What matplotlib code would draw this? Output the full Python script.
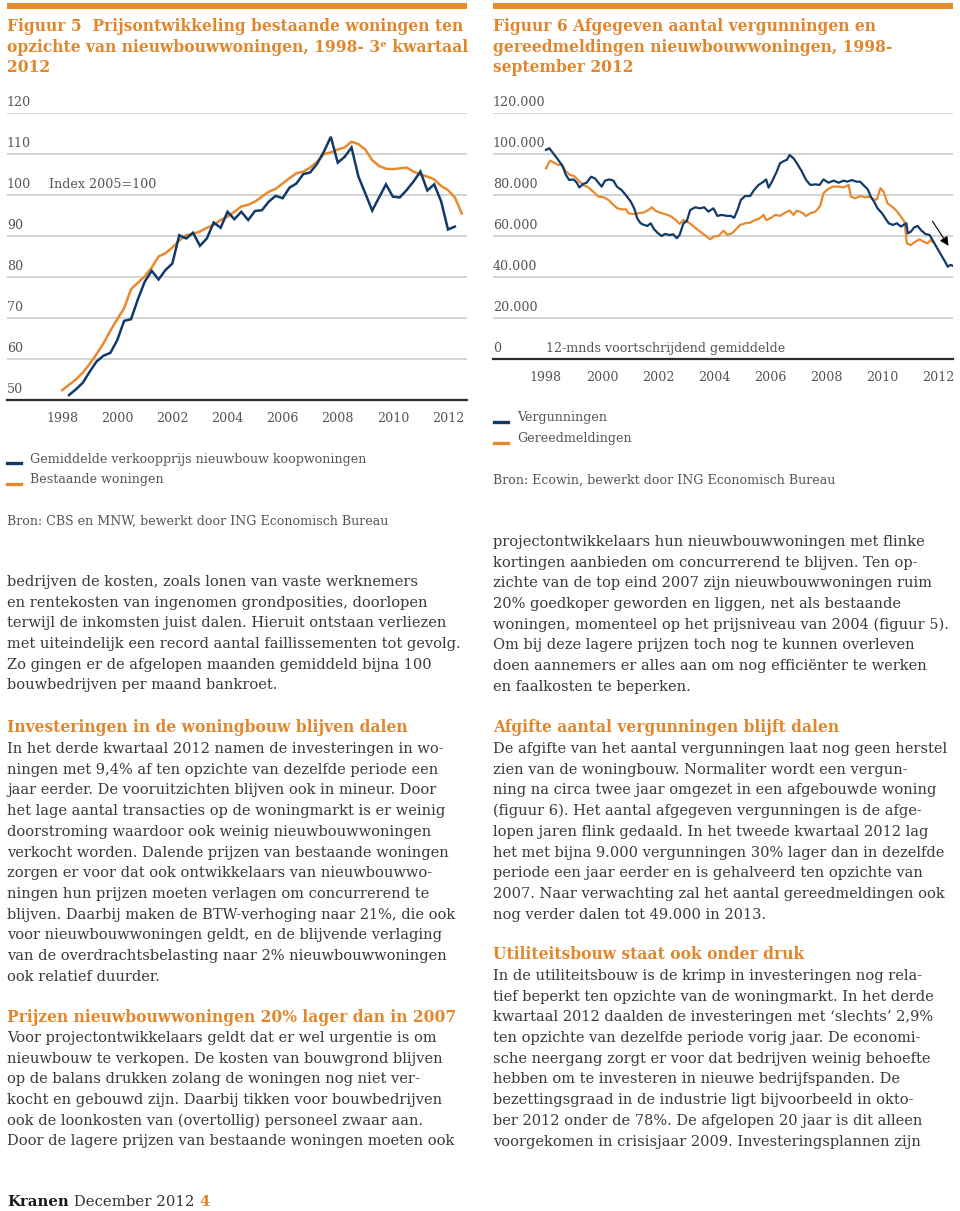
import matplotlib
matplotlib.use("Agg")
import matplotlib.pyplot as plt
from matplotlib.lines import Line2D
from matplotlib.patches import Rectangle
import matplotlib.transforms as mtransforms

# ---------------- data ----------------
# Figuur 5: price index (2005=100), quarterly
fig5_years = [1998, 2000, 2002, 2004, 2006, 2008, 2010, 2012]
fig5_yticks = [50, 60, 70, 80, 90, 100, 110, 120]
new_start = 1998.25          # first quarter of the series (1998 Q2)
new_homes = [51.2, 52.6, 54.2, 56.9, 59.4, 60.8, 61.5, 64.6, 69.3, 69.7,
             74.6, 78.9, 81.5, 79.4, 81.7, 83.3, 90.2, 89.4, 90.8, 87.6,
             89.4, 93.3, 92.0, 95.9, 94.1, 95.9, 93.9, 96.1, 96.3, 98.4,
             99.8, 99.2, 101.8, 102.8, 105.1, 105.5, 107.6, 110.6, 114.2, 107.9,
             109.3, 111.6, 104.5, 100.4, 96.2, 99.4, 102.6, 99.6, 99.4, 101.2,
             103.3, 105.7, 101.1, 102.6, 98.5, 91.6, 92.3]
existing_start = 1998.0      # 1998 Q1
existing_homes = [52.4, 53.7, 55.0, 56.7, 58.8, 61.2, 63.8, 66.9, 69.7, 72.4,
                  77.0, 78.6, 80.2, 82.3, 85.0, 85.8, 87.2, 88.9, 90.2, 90.5,
                  91.1, 92.0, 92.7, 93.9, 94.7, 95.9, 97.2, 97.6, 98.4, 99.6,
                  100.8, 101.5, 102.8, 104.1, 105.3, 105.7, 106.7, 108.1, 110.0, 110.4,
                  111.1, 111.6, 113.0, 112.4, 111.1, 108.5, 107.1, 106.4, 106.3, 106.5,
                  106.7, 105.7, 105.0, 104.5, 103.8, 102.2, 101.2, 99.4, 95.5]

# Figuur 6: 12-month moving averages, in thousands of dwellings
fig6_years = [1998, 2000, 2002, 2004, 2006, 2008, 2010, 2012]
fig6_yticks = [0, 20, 40, 60, 80, 100, 120]
fig6_yticklabels = ["0", "20.000", "40.000", "60.000", "80.000", "100.000", "120.000"]
verg_t = [1998.00, 1998.12, 1998.26, 1998.44, 1998.60, 1998.71, 1998.83, 1998.98, 1999.10, 1999.19,
          1999.33, 1999.45, 1999.61, 1999.75, 1999.87, 1999.99, 2000.11, 2000.26, 2000.41, 2000.53,
          2000.70, 2000.88, 2001.03, 2001.15, 2001.26, 2001.38, 2001.50, 2001.62, 2001.74, 2001.86,
          2001.98, 2002.13, 2002.25, 2002.41, 2002.55, 2002.67, 2002.77, 2002.91, 2003.03, 2003.15,
          2003.33, 2003.50, 2003.65, 2003.80, 2003.98, 2004.12, 2004.28, 2004.46, 2004.60, 2004.72,
          2004.84, 2004.96, 2005.11, 2005.29, 2005.43, 2005.59, 2005.77, 2005.86, 2005.95, 2006.07,
          2006.24, 2006.36, 2006.51, 2006.60, 2006.70, 2006.84, 2006.98, 2007.14, 2007.29, 2007.44,
          2007.62, 2007.77, 2007.91, 2008.09, 2008.27, 2008.45, 2008.63, 2008.75, 2008.93, 2009.08,
          2009.22, 2009.37, 2009.49, 2009.60, 2009.72, 2009.84, 2010.00, 2010.12, 2010.24, 2010.39,
          2010.53, 2010.68, 2010.77, 2010.87, 2010.92, 2011.03, 2011.15, 2011.27, 2011.39, 2011.55,
          2011.70, 2011.82, 2011.94, 2012.08, 2012.23, 2012.35, 2012.44, 2012.54]
vergunningen = [102.0, 102.8, 100.3, 97.1, 93.8, 89.8, 87.3, 87.6, 86.0, 83.7,
                85.4, 86.0, 88.9, 88.1, 86.0, 84.1, 87.0, 87.6, 87.0, 84.1,
                82.4, 79.5, 76.7, 73.5, 68.6, 66.2, 65.4, 64.9, 66.2, 63.3,
                61.6, 60.0, 61.0, 60.5, 60.8, 58.9, 60.5, 66.2, 67.3, 72.7,
                74.0, 73.5, 74.0, 71.9, 73.5, 69.8, 70.3, 69.8, 69.8, 68.9,
                72.7, 77.6, 79.5, 79.5, 82.4, 84.9, 86.5, 87.6, 83.6, 86.5,
                91.4, 95.5, 96.7, 97.1, 99.5, 97.9, 95.1, 91.4, 87.3, 84.9,
                85.2, 84.9, 87.6, 86.0, 87.0, 86.0, 87.0, 86.5, 87.3, 86.5,
                86.5, 84.4, 82.8, 79.2, 76.7, 73.5, 71.1, 68.6, 66.2, 65.4,
                66.2, 64.6, 65.4, 66.2, 61.3, 62.1, 64.2, 64.9, 62.9, 61.0,
                60.5, 57.7, 54.8, 51.5, 48.0, 45.0, 45.9, 45.4]
gereed_t = [1998.00, 1998.14, 1998.29, 1998.44, 1998.56, 1998.71, 1998.86, 1999.00, 1999.16, 1999.33,
            1999.51, 1999.69, 1999.87, 2000.05, 2000.23, 2000.41, 2000.55, 2000.70, 2000.86, 2000.94,
            2001.12, 2001.30, 2001.48, 2001.66, 2001.78, 2001.90, 2002.07, 2002.25, 2002.43, 2002.61,
            2002.77, 2002.91, 2003.05, 2003.21, 2003.39, 2003.56, 2003.74, 2003.86, 2004.00, 2004.16,
            2004.34, 2004.48, 2004.64, 2004.76, 2004.93, 2005.11, 2005.29, 2005.47, 2005.63, 2005.77,
            2005.86, 2006.01, 2006.19, 2006.36, 2006.54, 2006.70, 2006.84, 2006.96, 2007.14, 2007.29,
            2007.44, 2007.62, 2007.79, 2007.91, 2008.06, 2008.25, 2008.45, 2008.63, 2008.81, 2008.89,
            2009.04, 2009.22, 2009.40, 2009.56, 2009.70, 2009.82, 2009.94, 2010.06, 2010.20, 2010.36,
            2010.51, 2010.68, 2010.80, 2010.89, 2011.03, 2011.19, 2011.34, 2011.49, 2011.63, 2011.73,
            2011.79]
gereedmeldingen = [93.0, 96.7, 95.8, 94.6, 95.1, 91.4, 89.8, 89.3, 87.0, 84.9,
                   83.7, 81.6, 79.2, 78.9, 77.6, 75.1, 73.5, 73.0, 73.0, 71.1,
                   70.7, 71.1, 71.4, 72.7, 74.0, 72.4, 71.4, 70.7, 69.8, 68.1,
                   65.9, 67.8, 67.0, 65.4, 63.3, 61.6, 59.7, 58.4, 59.7, 60.0,
                   62.6, 60.5, 61.3, 62.9, 65.4, 66.2, 66.5, 67.8, 68.6, 70.3,
                   67.8, 68.6, 70.3, 69.8, 71.4, 72.4, 70.3, 72.4, 71.4, 69.8,
                   71.1, 71.9, 74.6, 80.8, 82.8, 84.1, 84.1, 83.7, 84.9, 79.2,
                   78.4, 79.5, 78.9, 79.2, 77.6, 77.9, 83.3, 81.6, 75.9, 74.3,
                   72.4, 69.4, 67.0, 56.4, 55.6, 57.2, 58.4, 57.2, 56.4, 58.0,
                   57.2]
arrow_from = (2011.75, 68.3)
arrow_to = (2012.43, 54.1)

# ---------------- texts ----------------
title5 = ["Figuur 5  Prijsontwikkeling bestaande woningen ten",
          "opzichte van nieuwbouwwoningen, 1998- 3\u1d49 kwartaal",
          "2012"]
title6 = ["Figuur 6 Afgegeven aantal vergunningen en",
          "gereedmeldingen nieuwbouwwoningen, 1998-",
          "september 2012"]
legend5 = ["Gemiddelde verkoopprijs nieuwbouw koopwoningen", "Bestaande woningen"]
legend6 = ["Vergunningen", "Gereedmeldingen"]
source5 = "Bron: CBS en MNW, bewerkt door ING Economisch Bureau"
source6 = "Bron: Ecowin, bewerkt door ING Economisch Bureau"

left_blocks = [
    ("text", 581, ["bedrijven de kosten, zoals lonen van vaste werknemers",
                   "en rentekosten van ingenomen grondposities, doorlopen",
                   "terwijl de inkomsten juist dalen. Hieruit ontstaan verliezen",
                   "met uiteindelijk een record aantal faillissementen tot gevolg.",
                   "Zo gingen er de afgelopen maanden gemiddeld bijna 100",
                   "bouwbedrijven per maand bankroet."]),
    ("head", 727, ["Investeringen in de woningbouw blijven dalen"]),
    ("text", 748, ["In het derde kwartaal 2012 namen de investeringen in wo-",
                   "ningen met 9,4% af ten opzichte van dezelfde periode een",
                   "jaar eerder. De vooruitzichten blijven ook in mineur. Door",
                   "het lage aantal transacties op de woningmarkt is er weinig",
                   "doorstroming waardoor ook weinig nieuwbouwwoningen",
                   "verkocht worden. Dalende prijzen van bestaande woningen",
                   "zorgen er voor dat ook ontwikkelaars van nieuwbouwwo-",
                   "ningen hun prijzen moeten verlagen om concurrerend te",
                   "blijven. Daarbij maken de BTW-verhoging naar 21%, die ook",
                   "voor nieuwbouwwoningen geldt, en de blijvende verlaging",
                   "van de overdrachtsbelasting naar 2% nieuwbouwwoningen",
                   "ook relatief duurder."]),
    ("head", 1017, ["Prijzen nieuwbouwwoningen 20% lager dan in 2007"]),
    ("text", 1037, ["Voor projectontwikkelaars geldt dat er wel urgentie is om",
                    "nieuwbouw te verkopen. De kosten van bouwgrond blijven",
                    "op de balans drukken zolang de woningen nog niet ver-",
                    "kocht en gebouwd zijn. Daarbij tikken voor bouwbedrijven",
                    "ook de loonkosten van (overtollig) personeel zwaar aan.",
                    "Door de lagere prijzen van bestaande woningen moeten ook"]),
]
right_blocks = [
    ("text", 541, ["projectontwikkelaars hun nieuwbouwwoningen met flinke",
                   "kortingen aanbieden om concurrerend te blijven. Ten op-",
                   "zichte van de top eind 2007 zijn nieuwbouwwoningen ruim",
                   "20% goedkoper geworden en liggen, net als bestaande",
                   "woningen, momenteel op het prijsniveau van 2004 (figuur 5).",
                   "Om bij deze lagere prijzen toch nog te kunnen overleven",
                   "doen aannemers er alles aan om nog effici\u00ebnter te werken",
                   "en faalkosten te beperken."]),
    ("head", 727, ["Afgifte aantal vergunningen blijft dalen"]),
    ("text", 748, ["De afgifte van het aantal vergunningen laat nog geen herstel",
                   "zien van de woningbouw. Normaliter wordt een vergun-",
                   "ning na circa twee jaar omgezet in een afgebouwde woning",
                   "(figuur 6). Het aantal afgegeven vergunningen is de afge-",
                   "lopen jaren flink gedaald. In het tweede kwartaal 2012 lag",
                   "het met bijna 9.000 vergunningen 30% lager dan in dezelfde",
                   "periode een jaar eerder en is gehalveerd ten opzichte van",
                   "2007. Naar verwachting zal het aantal gereedmeldingen ook",
                   "nog verder dalen tot 49.000 in 2013."]),
    ("head", 954, ["Utiliteitsbouw staat ook onder druk"]),
    ("text", 975, ["In de utiliteitsbouw is de krimp in investeringen nog rela-",
                   "tief beperkt ten opzichte van de woningmarkt. In het derde",
                   "kwartaal 2012 daalden de investeringen met \u2018slechts\u2019 2,9%",
                   "ten opzichte van dezelfde periode vorig jaar. De economi-",
                   "sche neergang zorgt er voor dat bedrijven weinig behoefte",
                   "hebben om te investeren in nieuwe bedrijfspanden. De",
                   "bezettingsgraad in de industrie ligt bijvoorbeeld in okto-",
                   "ber 2012 onder de 78%. De afgelopen 20 jaar is dit alleen",
                   "voorgekomen in crisisjaar 2009. Investeringsplannen zijn"]),
]

# ---------------- style ----------------
W, H = 960, 1211
ORANGE = "#E8892C"
HEAD = "#E2862B"
NAVY = "#123A69"
TXT = "#3a3a3a"
AXT = "#555555"
GRID = "#c8c8c8"
SERIF = ["DejaVu Serif", "DejaVu Sans"]
BODY_FS = 10.5
HEAD_FS = 11.2
AX_FS = 9.1
LINE = 20.7

fig = plt.figure(figsize=(W / 100, H / 100), dpi=100)
fig.patch.set_facecolor("white")


def fx(x):
    return x / W


def fy(y):
    return 1 - y / H


def ftext(x, y, s, **kw):
    kw.setdefault("family", SERIF)
    return fig.text(fx(x), fy(y), s, **kw)


# orange top bars
for x0, x1 in [(7, 467), (493, 953)]:
    fig.add_artist(Rectangle((fx(x0), fy(9.3)), fx(x1) - fx(x0), 6.6 / H,
                             transform=fig.transFigure, color=ORANGE, lw=0))

# titles
for i, line in enumerate(title5):
    ftext(7, 31 + i * 20.6, line, fontsize=HEAD_FS, fontweight="bold", color=HEAD, va="baseline")
for i, line in enumerate(title6):
    ftext(493, 31 + i * 20.6, line, fontsize=HEAD_FS, fontweight="bold", color=HEAD, va="baseline")


def setup_axes(ax, xlim, ylim, yticks, ylabels, years):
    ax.set_xlim(*xlim)
    ax.set_ylim(*ylim)
    for s in ["top", "left", "right"]:
        ax.spines[s].set_visible(False)
    ax.spines["bottom"].set_color("#2b2b2b")
    ax.spines["bottom"].set_linewidth(1.6)
    ax.set_yticks(yticks)
    ax.yaxis.grid(True, color=GRID, lw=1.1)
    ax.set_axisbelow(True)
    ax.tick_params(axis="y", length=0, labelleft=False)
    ax.set_xticks(years)
    ax.set_xticklabels([str(y) for y in years], family=SERIF, fontsize=AX_FS, color=AXT)
    ax.tick_params(axis="x", length=0, pad=8.5)
    trans = mtransforms.blended_transform_factory(ax.transAxes, ax.transData)
    for v, lab in zip(yticks, ylabels):
        ax.annotate(lab, xy=(0, v), xycoords=trans, xytext=(0, 4), textcoords="offset pixels",
                    ha="left", va="bottom", fontsize=AX_FS, color=AXT, family=SERIF)
    ax.patch.set_alpha(0)


# ---- Figure 5 axes ----
ax1 = fig.add_axes([fx(7), fy(400), (467 - 7) / W, (400 - 113) / H])
setup_axes(ax1, (1996.0, 2012.69), (50, 120), fig5_yticks, [str(v) for v in fig5_yticks], fig5_years)
x_exist = [existing_start + 0.25 * i for i in range(len(existing_homes))]
x_new = [new_start + 0.25 * i for i in range(len(new_homes))]
ax1.plot(x_exist, existing_homes, color=ORANGE, lw=1.8, solid_joinstyle="round")
ax1.plot(x_new, new_homes, color=NAVY, lw=1.8, solid_joinstyle="miter")
ax1.text(1997.52, 100, "Index 2005=100", ha="left", va="bottom", fontsize=AX_FS, color=AXT,
         family=SERIF, transform=ax1.transData + mtransforms.ScaledTranslation(0, 4 / 100, fig.dpi_scale_trans))

# ---- Figure 6 axes ----
ax2 = fig.add_axes([fx(493), fy(359), (953 - 493) / W, (359 - 113) / H])
setup_axes(ax2, (1996.107, 2012.536), (0, 120), fig6_yticks, fig6_yticklabels, fig6_years)
ax2.plot(gereed_t, gereedmeldingen, color=ORANGE, lw=1.6)
ax2.plot(verg_t, vergunningen, color=NAVY, lw=1.6)
ax2.text(1998.0, 0, "12-mnds voortschrijdend gemiddelde", ha="left", va="bottom", fontsize=AX_FS,
         color=AXT, family=SERIF,
         transform=ax2.transData + mtransforms.ScaledTranslation(0, 4 / 100, fig.dpi_scale_trans))
ax2.annotate("", xy=arrow_to, xytext=arrow_from,
             arrowprops=dict(arrowstyle="-|>", color="black", lw=0.8, mutation_scale=13))

# legends
for i, (lab, col) in enumerate(zip(legend5, [NAVY, ORANGE])):
    y = 459 + i * 21
    fig.add_artist(Line2D([fx(7), fx(21)], [fy(y + 4)] * 2, color=col, lw=2.4, transform=fig.transFigure))
    ftext(30, y, lab, fontsize=AX_FS, color=AXT, va="center")
for i, (lab, col) in enumerate(zip(legend6, [NAVY, ORANGE])):
    y = 418 + i * 21
    fig.add_artist(Line2D([fx(494), fx(508)], [fy(y + 4)] * 2, color=col, lw=2.4, transform=fig.transFigure))
    ftext(517, y, lab, fontsize=AX_FS, color=AXT, va="center")
ftext(7, 521, source5, fontsize=AX_FS, color=AXT, va="center")
ftext(493, 480, source6, fontsize=AX_FS, color=AXT, va="center")

# body text
for x0, blocks in [(7, left_blocks), (493, right_blocks)]:
    for kind, y0, lines in blocks:
        for i, line in enumerate(lines):
            yb = y0 + i * LINE + 5
            if kind == "head":
                ftext(x0, yb, line, fontsize=HEAD_FS, fontweight="bold", color=HEAD, va="baseline")
            else:
                ftext(x0, yb, line, fontsize=BODY_FS, color=TXT, va="baseline")

# footer
FOOT_FS = 10.7
t1 = ftext(7, 1206, "Kranen", fontsize=FOOT_FS, fontweight="bold", color="#1a1a1a", va="baseline")
t2 = fig.text(0, 0, " December 2012 ", fontsize=FOOT_FS, color="#333333", family=SERIF, va="baseline")
fig.canvas.draw()
r = fig.canvas.get_renderer()
bb = t1.get_window_extent(r)
t2.set_position((bb.x1 / W, fy(1206)))
fig.canvas.draw()
bb2 = t2.get_window_extent(r)
fig.text(bb2.x1 / W, fy(1206), "4", fontsize=FOOT_FS, fontweight="bold", color=HEAD, family=SERIF, va="baseline")

fig.savefig("out.png", dpi=100, facecolor="white")
